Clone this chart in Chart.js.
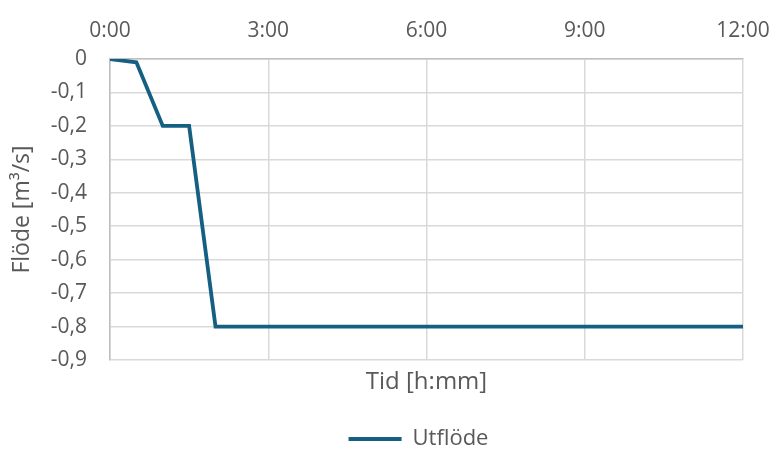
<!DOCTYPE html>
<html><head><meta charset="utf-8">
<script src="https://cdn.jsdelivr.net/npm/chart.js@4.4.1/dist/chart.umd.min.js"></script>
<style>html,body{margin:0;padding:0;background:#fff;}#c{display:block;}</style>
</head><body>
<canvas id="c" width="774" height="450"></canvas>
<script>
const timesH = [0, 0.5, 1, 1.5, 2, 12];
const flows = [0, -0.01, -0.2, -0.2, -0.8, -0.8];
const seriesName = 'Utflöde';
const xTitle = 'Tid [h:mm]';
const yTitle = 'Flöde [m³/s]';
const xTickStep = 3;

const FONT = "'Open Sans', 'Liberation Sans', sans-serif";
const TXT = '#595959';
const LINE = '#156082';

new Chart(document.getElementById('c'), {
  type: 'line',
  data: {
    datasets: [{
      label: seriesName,
      data: timesH.map((t, i) => ({x: t, y: flows[i]})),
      borderColor: LINE,
      backgroundColor: LINE,
      borderWidth: 3.8,
      pointRadius: 0,
      tension: 0,
      borderJoinStyle: 'miter'
    }]
  },
  plugins: [{
    id: 'shiftLegend',
    afterLayout(chart) { if (chart.legend) { chart.legend.left -= 16; } }
  }],
  options: {
    responsive: false,
    animation: false,
    layout: {padding: {left: 0, right: 31, top: 0, bottom: -10}},
    plugins: {
      legend: {
        position: 'bottom',
        fullSize: false,
        labels: {
          font: {family: FONT, size: 22},
          color: TXT,
          boxWidth: 53,
          boxHeight: 0,
          padding: 0
        }
      },
      tooltip: {enabled: false}
    },
    scales: {
      x: {
        type: 'linear',
        position: 'top',
        min: 0, max: 12,
        afterFit: s => { s.height = 59; s.paddingLeft = 0; s.paddingRight = 0; },
        ticks: {
          stepSize: xTickStep,
          color: TXT,
          font: {family: FONT, size: 21},
          padding: 15,
          maxRotation: 0,
          callback: v => Math.floor(v) + ':' + String(Math.round((v % 1) * 60)).padStart(2, '0')
        },
        grid: {color: '#d9d9d9', lineWidth: 1.5, drawTicks: false},
        border: {color: '#bfbfbf', width: 1.5}
      },
      x2: {
        type: 'linear',
        position: 'bottom',
        min: 0, max: 12,
        afterFit: s => { s.height = 68; s.paddingLeft = 0; s.paddingRight = 0; },
        ticks: {display: false},
        grid: {display: false, drawTicks: false},
        border: {display: false},
        title: {display: true, text: xTitle, color: TXT, font: {family: FONT, size: 24}, padding: {top: 0, bottom: 31}}
      },
      y: {
        min: -0.9, max: 0,
        afterFit: s => { s.width = 110; s.paddingTop = 0; s.paddingBottom = 0; },
        ticks: {
          stepSize: 0.1,
          color: TXT,
          font: {family: FONT, size: 21},
          padding: 23,
          callback: v => { const r = Math.round(v * 10) / 10; return (r === 0 ? '0' : String(r).replace('.', ',')); }
        },
        grid: {color: '#d9d9d9', lineWidth: 1.5, drawTicks: false},
        border: {color: '#bfbfbf', width: 1.5},
        title: {display: true, text: yTitle, color: TXT, font: {family: FONT, size: 23}, padding: {top: 9, bottom: 0}}
      }
    }
  }
});
</script>
</body></html>
